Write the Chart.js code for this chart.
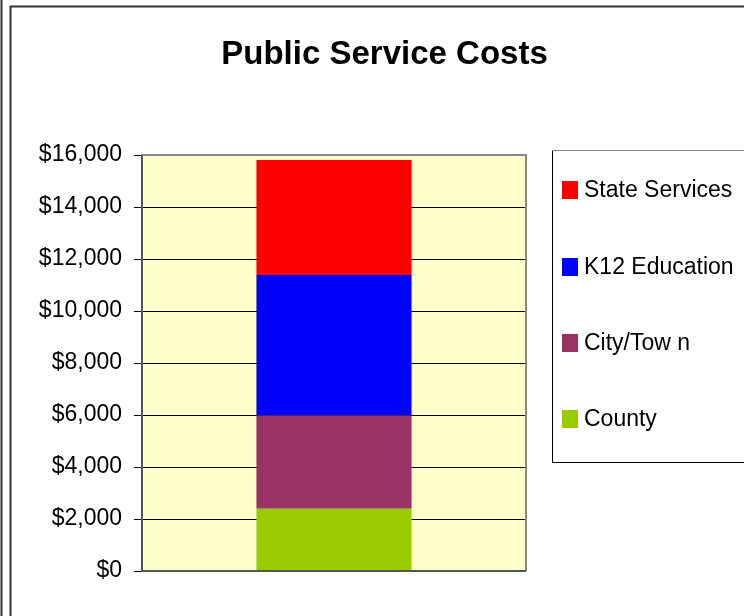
<!DOCTYPE html>
<html>
<head>
<meta charset="utf-8">
<script src="https://cdn.jsdelivr.net/npm/chart.js@4.4.0/dist/chart.umd.min.js"></script>
<style>
  html, body { margin: 0; padding: 0; background: #fff; }
  #wrap { width: 744px; height: 616px; }
</style>
</head>
<body>
<div id="wrap"><canvas id="costChart" width="744" height="616"></canvas></div>
<script>
// Public Service Costs - single stacked column

const categories = ['Public Service Costs'];
const seriesNames = ['County', 'City/Tow n', 'K12 Education', 'State Services'];
const countyCosts = [2390];
const cityCosts = [3590];
const k12Costs = [5400];
const stateCosts = [4430];
const seriesColors = ['#99CC00', '#993366', '#0000FF', '#FF0000'];
const yTickMin = 0, yTickMax = 16000, yTickStep = 2000;

const FONT = 'Liberation Sans, Arial, sans-serif';

// plot area fill, borders, outer frame and the boxed legend
const frame = {
  id: 'frame',
  beforeDraw(chart) {
    const { ctx, chartArea: a } = chart;
    ctx.save();
    ctx.fillStyle = '#FFFFCC';
    ctx.fillRect(a.left, a.top, a.right - a.left, a.bottom - a.top);
    ctx.restore();
  },
  afterDraw(chart) {
    const { ctx, chartArea: a } = chart;
    ctx.save();
    // plot area top / right edge
    ctx.strokeStyle = '#888';
    ctx.lineWidth = 2;
    ctx.beginPath();
    ctx.moveTo(a.left, a.top);
    ctx.lineTo(a.right, a.top);
    ctx.lineTo(a.right, a.bottom);
    ctx.stroke();
    // bottom axis line
    ctx.strokeStyle = '#555';
    ctx.beginPath();
    ctx.moveTo(a.left, a.bottom);
    ctx.lineTo(a.right, a.bottom);
    ctx.stroke();

    // outer frames
    ctx.strokeStyle = '#333';
    ctx.lineWidth = 2;
    ctx.beginPath();
    ctx.moveTo(1.5, 0); ctx.lineTo(1.5, 616);
    ctx.moveTo(10.5, 616); ctx.lineTo(10.5, 6.5); ctx.lineTo(744, 6.5);
    ctx.stroke();

    // legend box
    ctx.strokeStyle = '#000';
    ctx.lineWidth = 1;
    ctx.strokeRect(552.5, 150.5, 220, 312);
    ctx.strokeStyle = '#888';
    ctx.beginPath();
    ctx.moveTo(552, 150.5); ctx.lineTo(744, 150.5);
    ctx.stroke();

    const rows = [190, 267, 343, 419];
    const ds = chart.data.datasets.slice().reverse();
    ctx.font = '23px ' + FONT;
    ctx.textBaseline = 'middle';
    ctx.textAlign = 'left';
    ds.forEach((d, i) => {
      ctx.fillStyle = d.backgroundColor;
      ctx.fillRect(562, rows[i] - 9, 16, 18);
      ctx.fillStyle = '#000';
      ctx.fillText(d.label, 584, rows[i] + 1);
    });
    ctx.restore();
  }
};

const seriesData = [countyCosts, cityCosts, k12Costs, stateCosts];

new Chart(document.getElementById('costChart'), {
  type: 'bar',
  data: {
    labels: categories,
    datasets: seriesNames.map((name, i) => ({
      label: name,
      data: seriesData[i],
      backgroundColor: seriesColors[i],
      borderWidth: 0,
      barPercentage: 0.404,
      categoryPercentage: 1
    }))
  },
  options: {
    responsive: false,
    animation: false,
    layout: { padding: { left: 25, right: 0, top: 0, bottom: 45 } },
    plugins: {
      legend: { display: false },
      tooltip: { enabled: false },
      title: {
        display: true,
        text: 'Public Service Costs',
        color: '#000',
        font: { family: FONT, size: 33, weight: 'bold', lineHeight: 1 },
        padding: { top: 38, bottom: 84 }
      }
    },
    scales: {
      x: { stacked: true, display: false },
      y: {
        stacked: true,
        min: yTickMin, max: yTickMax,
        ticks: {
          stepSize: yTickStep,
          padding: 12,
          color: '#000',
          font: { family: FONT, size: 23 },
          callback: v => '$' + v.toLocaleString('en-US')
        },
        grid: { color: '#000', lineWidth: 1, tickLength: 8, tickColor: '#000' },
        border: { display: true, color: '#555', width: 2 },
        afterFit: s => { s.width = 117; }
      },
      spacer: {
        position: 'right',
        display: true,
        ticks: { display: false },
        grid: { display: false },
        border: { display: false },
        afterFit: s => { s.width = 218; }
      }
    }
  },
  plugins: [frame]
});
</script>
</body>
</html>
